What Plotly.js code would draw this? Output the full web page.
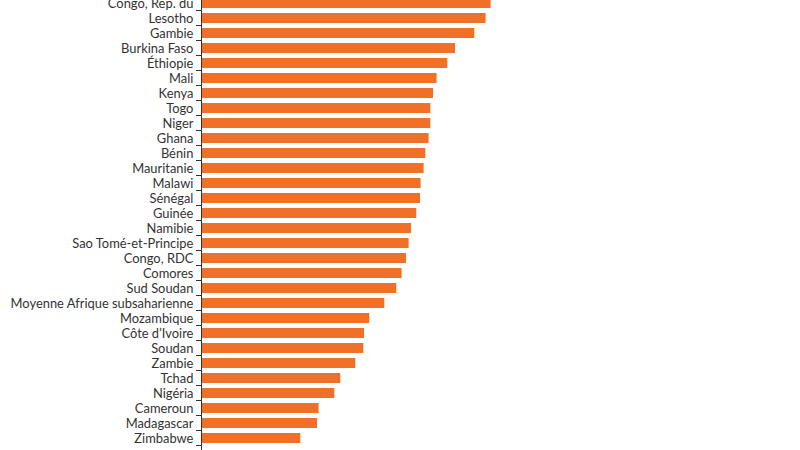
<!DOCTYPE html>
<html>
<head>
<meta charset="utf-8">
<script src="https://cdn.plot.ly/plotly-3.0.1.min.js"></script>
<style>html,body{margin:0;padding:0;background:#fff;}#chart{width:800px;height:450px;}</style>
</head>
<body>
<div id="chart"></div>
<script>
var countries = ["Congo, Rép. du","Lesotho","Gambie","Burkina Faso","Éthiopie","Mali","Kenya","Togo","Niger","Ghana","Bénin","Mauritanie","Malawi","Sénégal","Guinée","Namibie","Sao Tomé-et-Principe","Congo, RDC","Comores","Sud Soudan","Moyenne Afrique subsaharienne","Mozambique","Côte d’Ivoire","Soudan","Zambie","Tchad","Nigéria","Cameroun","Madagascar","Zimbabwe"];
var values = [288.6,283.6,272.3,253,245.3,234.6,231,228.3,228.3,226.6,223.3,221.6,218.6,218,214.3,209,206.6,204,199.6,194.3,182.3,167.3,162,161.3,153.3,138.3,132.3,116.6,115,98.3];

var idx = countries.map(function(_, i){ return i; });
var bounds = countries.map(function(_, i){ return i + 0.5; });

var trace = {
  type: 'bar',
  orientation: 'h',
  x: values,
  y: idx,
  marker: {color: '#F07027', line: {width: 0}},
  hoverinfo: 'skip'
};

var layout = {
  width: 800, height: 450,
  margin: {l: 202, r: 0, t: 0, b: 0, pad: 0},
  paper_bgcolor: '#ffffff',
  plot_bgcolor: '#ffffff',
  bargap: 0.33,
  showlegend: false,
  xaxis: {range: [0, 598], visible: false, fixedrange: true},
  yaxis: {
    range: [29.8, -0.2],
    tickmode: 'array',
    tickvals: idx,
    ticktext: countries,
    ticks: '',
    ticklen: 0,
    ticklabelstandoff: 5,
    ticklabeloverflow: 'allow',
    showgrid: false,
    zeroline: false,
    showline: true,
    linecolor: '#333333',
    linewidth: 1,
    tickfont: {family: 'Lato, sans-serif', size: 12.9, color: '#333333'},
    minor: {tickmode: 'array', tickvals: bounds, ticks: 'outside', ticklen: 5, tickcolor: '#333333', tickwidth: 1, showgrid: false}
  }
};

Plotly.newPlot('chart', [trace], layout, {displayModeBar: false, staticPlot: true});
</script>
</body>
</html>
